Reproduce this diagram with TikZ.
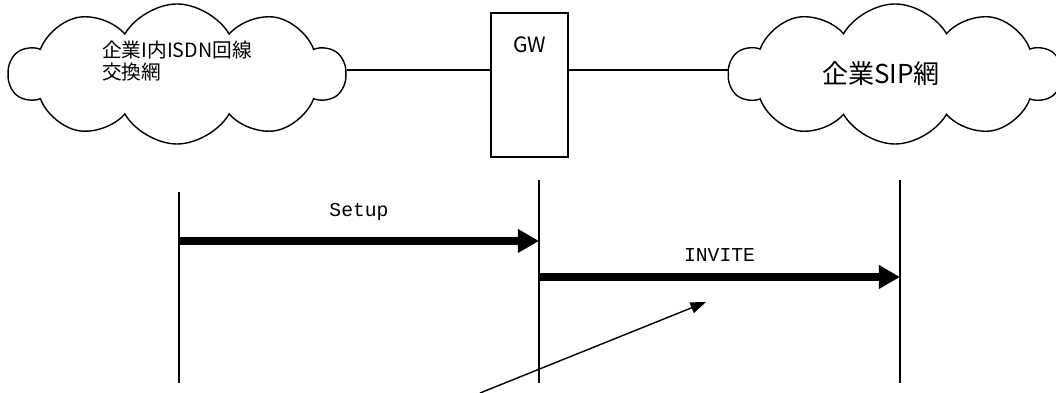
\documentclass[tikz,border=0pt]{standalone}
\usepackage{fontspec}
\setmainfont{Noto Sans CJK JP}
\setmonofont{Liberation Mono}
\usetikzlibrary{arrows.meta, shapes.symbols, positioning}

\begin{document}
\begin{tikzpicture}[x=0.025cm, y=0.025cm,
    netcloud/.style={cloud, draw, line width=1pt, cloud puffs=10, cloud puff arc=120, aspect=2.8, inner sep=0pt},
    msgarrow/.style={line width=5pt, -{Triangle[length=15pt, width=16pt]}},
    lifeline/.style={line width=1pt}]

\useasboundingbox (0,0) rectangle (1056,393);

% === Redes ===
\node[netcloud, minimum width=8.4cm, minimum height=3.5cm,
    label={[align=left, yshift=0.33cm, font=\fontsize{14pt}{15.5pt}\selectfont]center:企業I内ISDN回線\\交換網}]
    (isdn) at (177,319) {};
\node[netcloud, minimum width=8.3cm, minimum height=3.5cm,
    label={[xshift=-0.35cm, font=\fontsize{18.5pt}{20pt}\selectfont]center:企業SIP網}]
    (sip) at (895,319) {};

% GW
\node[draw, line width=1pt, minimum width=1.93cm, minimum height=3.6cm,
    label={[anchor=north, yshift=-0.5cm, font=\fontsize{15pt}{17pt}\selectfont]north:GW}]
    (gw) at (529.5,308) {};

\draw[line width=1pt] (isdn.east |- 0,323) -- (gw.west |- 0,323);
\draw[line width=1pt] (gw.east |- 0,323) -- (sip.west |- 0,323);

% === Secuencia ===
\coordinate (isdntop) at (179,201);
\coordinate (isdnbot) at (179,10);
\coordinate (gwtop) at (539,213);
\coordinate (gwbot) at (539,10);
\coordinate (siptop) at (900,213);
\coordinate (sipbot) at (900,10);

\draw[lifeline] (isdntop) -- (isdnbot);
\draw[lifeline] (gwtop) -- (gwbot);
\draw[lifeline] (siptop) -- (sipbot);

% Setup / INVITE
\coordinate (setupA) at (179,152);
\coordinate (setupB) at (539,152);
\coordinate (inviteA) at (539,116);
\coordinate (inviteB) at (900,116);

\draw[msgarrow] (setupA) -- (setupB)
    node[midway, above=0.3cm, font=\ttfamily\fontsize{14pt}{16pt}\selectfont] {Setup};
\draw[msgarrow] (inviteA) -- (inviteB)
    node[midway, above=0.18cm, font=\ttfamily\fontsize{14pt}{16pt}\selectfont] {INVITE};

% Flecha fina
\coordinate (ptrfoot) at (480,0);
\coordinate (ptrtip) at (706,91);
\draw[line width=1pt, -{Triangle[length=11pt, width=8pt]}] (ptrfoot) -- (ptrtip);

\end{tikzpicture}
\end{document}
